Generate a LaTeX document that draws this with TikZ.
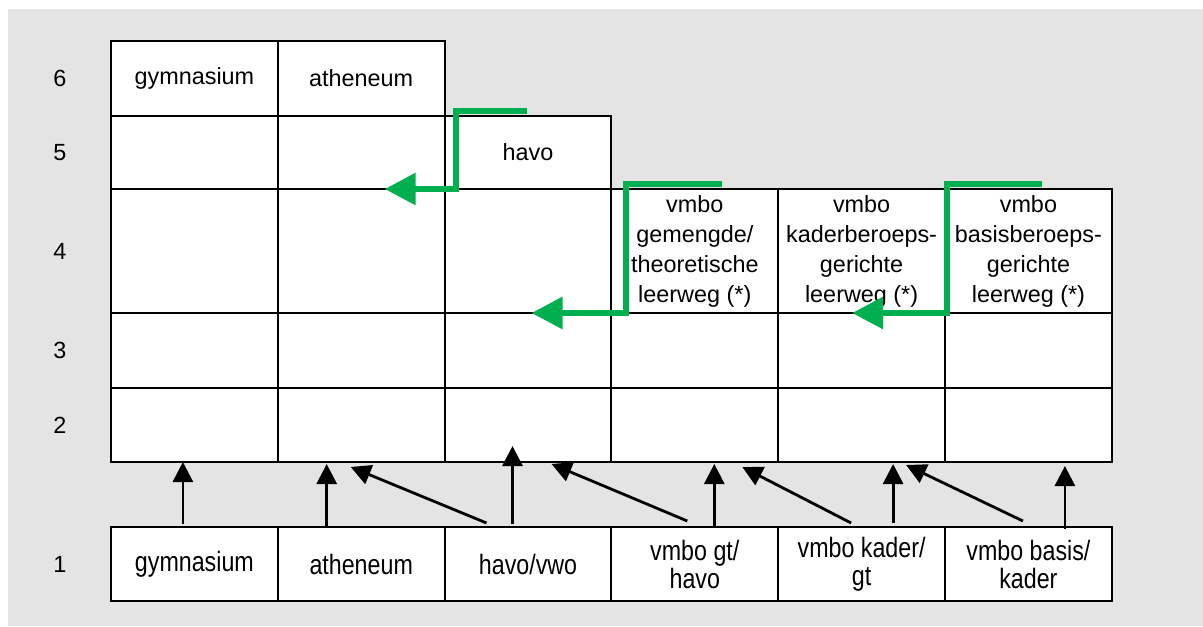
\documentclass[tikz,border=0pt]{standalone}
\usepackage{fontspec}
\setmainfont{Liberation Sans}
\newfontfamily\narrowfont{Liberation Sans}[FakeStretch=0.83]
\usetikzlibrary{positioning, arrows.meta}
\definecolor{bggray}{RGB}{228,228,228}
\definecolor{routegreen}{RGB}{0,176,80}

\begin{document}
\begin{tikzpicture}[node distance = 0pt, font = \fontsize{11.7}{15}\selectfont,
  cell/.style = {draw, line width = 1pt, fill = white, minimum width = 83.4pt, minimum height = #1, inner sep = 0pt, outer sep = 0pt, align = center},
  entry/.style = {cell = 37pt, font = \narrowfont\fontsize{14}{14}\selectfont},
  feed/.style = {line width = 1.4pt, -{Triangle[length = 10pt, width = 10pt]}},
  route/.style = {routegreen, line width = 3pt, -{Triangle[length = 15.5pt, width = 15.5pt]}}]
  % background
  \fill [bggray] (4pt,-4.5pt) rectangle (601.5pt,-313pt);
  \path [use as bounding box] (0,0) rectangle (601.5pt,-313pt);
  \coordinate (lab) at (30pt,0);

  % nodes
  \node [cell = 37.5pt, anchor = north west] (gym6) at (55.5pt,-20.5pt) {gymnasium};
  \node [cell = 37.5pt][right = of gym6] (ath6) {atheneum};

  \node [cell = 36.5pt][below = of gym6] (gym5) {};
  \node [cell = 36.5pt][right = of gym5] (ath5) {};
  \node [cell = 36.5pt][right = of ath5] (hav5) {havo};

  \node [cell = 62pt][below = of gym5] (gym4) {};
  \node [cell = 62pt][right = of gym4] (ath4) {};
  \node [cell = 62pt][right = of ath4] (hav4) {};
  \node [cell = 62pt][right = of hav4] (vgt4) {vmbo\\gemengde/\\theoretische\\leerweg (*)};
  \node [cell = 62pt][right = of vgt4] (vkb4) {vmbo\\kaderberoeps-\\gerichte\\leerweg (*)};
  \node [cell = 62pt][right = of vkb4] (vbb4) {vmbo\\basisberoeps-\\gerichte\\leerweg (*)};

  \node [cell = 37.5pt][below = of gym4] (gym3) {};
  \node [cell = 37.5pt][right = of gym3] (ath3) {};
  \node [cell = 37.5pt][right = of ath3] (hav3) {};
  \node [cell = 37.5pt][right = of hav3] (vgt3) {};
  \node [cell = 37.5pt][right = of vgt3] (vkb3) {};
  \node [cell = 37.5pt][right = of vkb3] (vbb3) {};

  \node [cell = 37pt][below = of gym3] (gym2) {};
  \node [cell = 37pt][right = of gym2] (ath2) {};
  \node [cell = 37pt][right = of ath2] (hav2) {};
  \node [cell = 37pt][right = of hav2] (vgt2) {};
  \node [cell = 37pt][right = of vgt2] (vkb2) {};
  \node [cell = 37pt][right = of vkb2] (vbb2) {};

  \node [entry][below = 32.5pt of gym2] (gym1) {gymnasium};
  \node [entry][right = of gym1] (ath1) {atheneum};
  \node [entry][right = of ath1] (hav1) {havo/vwo};
  \node [entry][right = of hav1] (vgt1) {vmbo gt/\\havo};
  \node [entry][right = of vgt1] (vkb1) {vmbo kader/\\gt};
  \node [entry][right = of vkb1] (vbb1) {vmbo basis/\\kader};

  % years
  \node (year6) at (lab |- gym6) {6};
  \node (year5) at (lab |- gym5) {5};
  \node (year4) at (lab |- gym4) {4};
  \node (year3) at (lab |- gym3) {3};
  \node (year2) at (lab |- gym2) {2};
  \node (year1) at (lab |- gym1) {1};

  % edges
  \draw [feed] ([xshift = -5.75pt, yshift = 1.5pt]gym1.north) -- ([xshift = -5.75pt]gym2.south);
  \draw [feed] ([xshift = -17.25pt]ath1.north) -- ([xshift = -17.25pt, yshift = -1pt]ath2.south);
  \draw [feed] ([xshift = -20.75pt, yshift = 2pt]hav1.north) -- ([xshift = -5.25pt, yshift = -2.5pt]ath2.south);
  \draw [feed] ([xshift = -7.75pt, yshift = 1.5pt]hav1.north) -- ([xshift = -7.75pt, yshift = 8pt]hav2.south);
  \draw [feed] ([xshift = -3.75pt, yshift = 3pt]vgt1.north) -- ([xshift = 11.75pt, yshift = -1pt]hav2.south);
  \draw [feed] ([xshift = 9.75pt]vgt1.north) -- ([xshift = 9.75pt, yshift = -1pt]vgt2.south);
  \draw [feed] ([xshift = -5.25pt, yshift = 2pt]vkb1.north) -- ([xshift = 23.75pt, yshift = -2.5pt]vgt2.south);
  \draw [feed] ([xshift = 15.75pt, yshift = 2pt]vkb1.north) -- ([xshift = 15.75pt, yshift = -1pt]vkb2.south);
  \draw [feed] ([xshift = -2.75pt, yshift = 3pt]vbb1.north) -- ([xshift = 22.25pt, yshift = -1.5pt]vkb2.south);
  \draw [feed] ([xshift = 18.25pt, yshift = -1pt]vbb1.north) -- ([xshift = 18.25pt, yshift = -2pt]vbb2.south);

  \draw [route] ([xshift = -0.75pt, yshift = 2.5pt]hav5.north) -| ([xshift = 5.5pt]hav5.south west) -- ([xshift = 11.75pt]ath4.north);
  \draw [route] ([xshift = 13.75pt, yshift = 2.5pt]vgt4.north) -| ([xshift = 7.5pt]vgt4.south west) -- ([xshift = 1.75pt]hav4.south);
  \draw [route] ([xshift = 6.75pt, yshift = 2.5pt]vbb4.north) -| ([xshift = 1pt]vbb4.south west) -- ([xshift = -4.75pt]vkb4.south);
\end{tikzpicture}
\end{document}
